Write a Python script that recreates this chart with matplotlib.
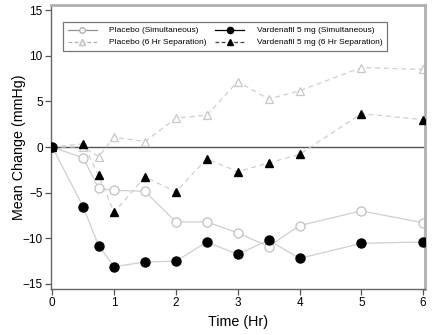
import matplotlib
matplotlib.use("Agg")
import matplotlib.pyplot as plt
from matplotlib.lines import Line2D

plt.rcParams['font.family'] = ['Liberation Sans', 'DejaVu Sans']

time = [0, 0.5, 0.75, 1, 1.5, 2, 2.5, 3, 3.5, 4, 5, 6]
placebo_sim = [0, -1.2, -4.5, -4.75, -4.85, -8.2, -8.2, -9.4, -10.9, -8.6, -7.0, -8.3]
vard_sim = [0, -6.55, -10.8, -13.1, -12.6, -12.5, -10.4, -11.75, -10.2, -12.2, -10.55, -10.4]
placebo_6h = [0, 0.0, -1.06, 1.06, 0.6, 3.15, 3.5, 7.15, 5.25, 6.15, 8.7, 8.5]
vard_6h = [0, 0.35, -3.1, -7.15, -3.3, -4.9, -1.3, -2.7, -1.75, -0.8, 3.65, 3.0]

labels = ["Placebo (Simultaneous)", "Placebo (6 Hr Separation)",
          "Vardenafil 5 mg (Simultaneous)", "Vardenafil 5 mg (6 Hr Separation)"]
xticks = [0, 1, 2, 3, 4, 5, 6]
yticks = [-15, -10, -5, 0, 5, 10, 15]

fig = plt.figure(figsize=(4.33, 3.35), dpi=100)
ax = fig.add_axes([51/433, 1-289/335, 374/433, 284/335])

lc = '#cfcfcf'
ax.axhline(0, color='#555555', lw=1.0, zorder=1)
ax.plot(time, placebo_6h, ls=(0, (4, 3)), color=lc, lw=0.9, marker='^', ms=6.3,
        mfc='white', mec='#c8c8c8', mew=0.9, zorder=2)
ax.plot(time, vard_6h, ls=(0, (4, 3)), color=lc, lw=0.9, marker='^', ms=6.3,
        mfc='black', mec='black', zorder=3)
ax.plot(time, placebo_sim, ls='-', color=lc, lw=0.9, marker='o', ms=6.5,
        mfc='white', mec='#c0c0c0', mew=0.9, zorder=2)
ax.plot(time, vard_sim, ls='-', color=lc, lw=0.9, marker='o', ms=6.5,
        mfc='black', mec='black', zorder=4)

ax.set_xlim(-0.02, 6.03)
ax.set_ylim(-15.55, 15.55)
ax.set_xticks(xticks)
ax.set_yticks(yticks)
ax.tick_params(labelsize=8.5, length=4, color='#555555', width=0.9, pad=2)
ax.set_xlabel("Time (Hr)", fontsize=10.3, labelpad=4)
ax.set_ylabel("Mean Change (mmHg)", fontsize=10.3)
ax.yaxis.set_label_coords(-0.066, 0.5)

for s in ['left', 'bottom']:
    ax.spines[s].set_color('#666666')
    ax.spines[s].set_linewidth(1.0)
for s in ['top', 'right']:
    ax.spines[s].set_color('#b0b0b0')
    ax.spines[s].set_linewidth(2.0)

handles = [
    Line2D([], [], ls='-', color='#909090', lw=0.9, marker='o', ms=4, mfc='white', mec='#b0b0b0'),
    Line2D([], [], ls=(0, (3, 2)), color='#b0b0b0', lw=0.9, marker='^', ms=4, mfc='white', mec='#c0c0c0'),
    Line2D([], [], ls='-', color='black', lw=0.9, marker='o', ms=4.5, mfc='black', mec='black'),
    Line2D([], [], ls=(0, (3, 2)), color='#404040', lw=0.9, marker='^', ms=4.5, mfc='black', mec='black'),
]
leg = ax.legend(handles, labels, ncol=2, loc='upper left',
                bbox_to_anchor=(0.032, 0.940), borderaxespad=0, fontsize=6.0,
                frameon=True, fancybox=False, edgecolor='#555555',
                handlelength=3.5, handletextpad=1.5, columnspacing=1.0,
                borderpad=0.55, labelspacing=0.5)
leg.get_frame().set_linewidth(0.9)

fig.savefig("out.png", dpi=100)
